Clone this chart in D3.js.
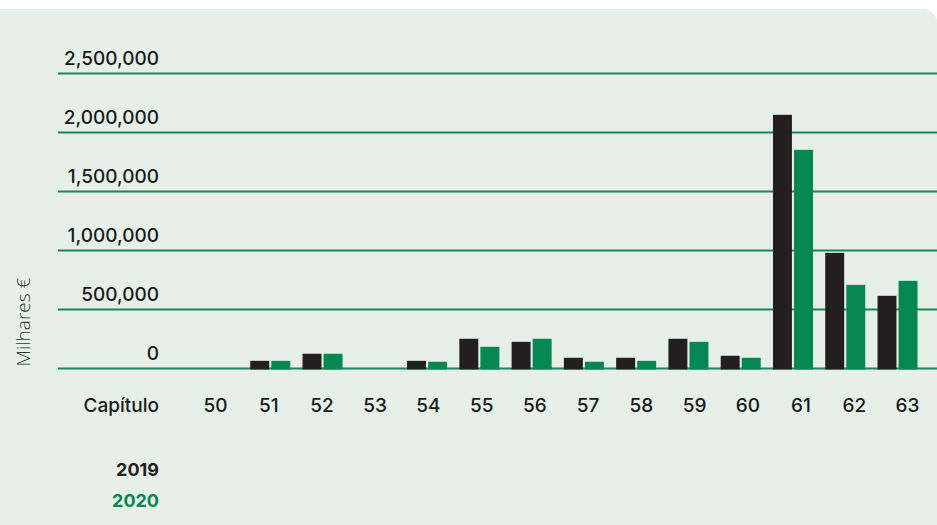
<!DOCTYPE html>
<html>
<head>
<meta charset="utf-8">
<script src="https://cdn.jsdelivr.net/npm/d3@7"></script>
<style>
  html, body { margin: 0; padding: 0; background: #fff; }
  svg { display: block; font-family: Inter, "Open Sans", sans-serif; }
</style>
</head>
<body>
<svg width="937" height="525"></svg>
<script>
const chapters = ["50", "51", "52", "53", "54", "55", "56", "57", "58", "59", "60", "61", "62", "63"];
const values2019 = [0, 65000, 125000, 0, 65000, 252000, 226000, 91000, 91000, 252000, 108000, 2150000, 980000, 616000];
const values2020 = [0, 65000, 125000, 0, 57000, 184000, 252000, 57000, 65000, 226000, 91000, 1853000, 709000, 743000];
const yTicks = [0, 500000, 1000000, 1500000, 2000000, 2500000];
const seriesNames = ["2019", "2020"];

const colors = { "2019": "#231f20", "2020": "#058752" };

const svg = d3.select("svg");

// panel
svg.append("rect")
  .attr("x", -20)
  .attr("y", 9)
  .attr("width", 957)
  .attr("height", 560)
  .attr("rx", 14)
  .attr("fill", "#e6f0e8");

const y = d3.scaleLinear().domain([0, 2500000]).range([368.5, 73.5]);

// bars are laid out on one band, chapter labels sit on a slightly wider one
const x = d3.scaleBand().domain(chapters).range([191.85, 923.65]).paddingInner(0).paddingOuter(0);
const xLabel = d3.scalePoint().domain(chapters).range([215, 907]);
const xSeries = d3.scaleBand().domain(seriesNames).range([-20, 20]).paddingInner(0.1);

// grid
svg.append("g")
  .selectAll("line")
  .data(yTicks)
  .join("line")
  .attr("x1", 58)
  .attr("x2", 937)
  .attr("y1", (d) => y(d))
  .attr("y2", (d) => y(d))
  .attr("stroke", "#14885a")
  .attr("stroke-width", 2);

// y tick labels
svg.append("g")
  .selectAll("text")
  .data(yTicks)
  .join("text")
  .attr("x", 159)
  .attr("y", (d) => y(d) - 9)
  .attr("text-anchor", "end")
  .attr("font-size", 19)
  .attr("font-weight", 500)
  .attr("fill", "#1a1a1a")
  .text((d) => d3.format(",")(d));

svg.append("text")
  .attr("transform", "translate(30,322) rotate(-90)")
  .attr("text-anchor", "middle")
  .attr("font-family", "Open Sans, sans-serif")
  .attr("font-size", 19)
  .attr("font-weight", 300)
  .attr("fill", "#333")
  .text("Milhares €");

// bars
const rows = chapters.map((c, i) => ({ chapter: c, "2019": values2019[i], "2020": values2020[i] }));

svg.append("g")
  .selectAll("g")
  .data(rows)
  .join("g")
  .attr("transform", (d) => `translate(${x(d.chapter) + x.bandwidth() / 2},0)`)
  .selectAll("rect")
  .data((d) => seriesNames.map((s) => ({ key: s, value: d[s] })).filter((v) => v.value > 0))
  .join("rect")
  .attr("x", (d) => xSeries(d.key))
  .attr("width", xSeries.bandwidth())
  .attr("y", (d) => y(d.value))
  .attr("height", (d) => y(0) + 1 - y(d.value))
  .attr("fill", (d) => colors[d.key]);

// x axis labels
const xAxis = svg.append("g")
  .attr("transform", "translate(0,390)")
  .call(d3.axisBottom(xLabel).tickSize(0).tickPadding(0));
xAxis.select(".domain").remove();
xAxis.selectAll("text")
  .attr("dy", "0")
  .attr("y", 22)
  .attr("font-family", "Inter, sans-serif")
  .attr("font-size", 19)
  .attr("font-weight", 500)
  .attr("fill", "#1a1a1a");

svg.append("text")
  .attr("x", 159)
  .attr("y", 412)
  .attr("text-anchor", "end")
  .attr("font-size", 19)
  .attr("font-weight", 500)
  .attr("fill", "#1a1a1a")
  .text("Capítulo");

// legend
svg.append("g")
  .selectAll("text")
  .data(seriesNames)
  .join("text")
  .attr("x", 159)
  .attr("y", (d, i) => 476 + i * 31)
  .attr("text-anchor", "end")
  .attr("font-size", 18)
  .attr("font-weight", 700)
  .attr("fill", (d) => colors[d])
  .text((d) => d);
</script>
</body>
</html>
